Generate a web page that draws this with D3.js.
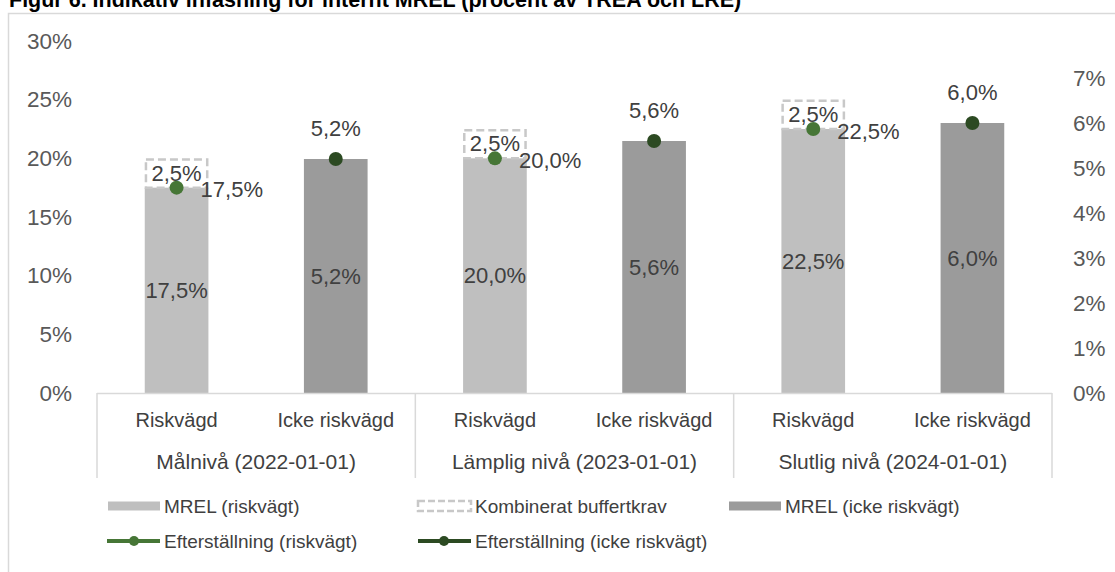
<!DOCTYPE html>
<html>
<head>
<meta charset="utf-8">
<script src="https://cdn.jsdelivr.net/npm/d3@7"></script>
<style>
  body { margin: 0; background: #fff; }
  svg { display: block; font-family: "Liberation Sans", Arial, Helvetica, sans-serif; }
</style>
</head>
<body>
<div id="chart"></div>
<script>
// data
const groups = ["Målnivå (2022-01-01)", "Lämplig nivå (2023-01-01)", "Slutlig nivå (2024-01-01)"];
const subCats = ["Riskvägd", "Icke riskvägd"];
const mrelRisk = [17.5, 20.0, 22.5];      // left axis
const bufferReq = [2.5, 2.5, 2.5];        // left axis, stacked on mrelRisk
const mrelLre = [5.2, 5.6, 6.0];          // right axis
const subRisk = [17.5, 20.0, 22.5];       // left axis
const subLre = [5.2, 5.6, 6.0];           // right axis
const leftTicks = [0, 5, 10, 15, 20, 25, 30];
const rightTicks = [0, 1, 2, 3, 4, 5, 6, 7];

const W = 1115, H = 572;
const plotLeft = 97, plotRight = 1052, plotTop = 41, plotBottom = 393;

const se = d3.formatLocale({decimal: ",", thousands: " ", grouping: [3], currency: ["", " kr"]});
const pct = v => se.format(".1f")(v) + "%";

const svg = d3.select("#chart").append("svg")
  .attr("width", W)
  .attr("height", H);

// outer frame + cropped title
svg.append("rect")
  .attr("x", 8.5).attr("y", 13.5)
  .attr("width", 1200).attr("height", 700)
  .attr("fill", "none").attr("stroke", "#d9d9d9").attr("stroke-width", 1.5);

svg.append("text")
  .attr("x", 9).attr("y", 7)
  .attr("font-size", 21.5).attr("font-weight", "bold").attr("fill", "#000")
  .text("Figur 6. Indikativ infasning för internt MREL (procent av TREA och LRE)");

// scales
const keys = [];
groups.forEach((g, i) => subCats.forEach((s, j) => keys.push(i + "-" + j)));
const x = d3.scaleBand().domain(keys).range([plotLeft, plotRight]).paddingInner(0.6).paddingOuter(0.3);
const xg = d3.scaleBand().domain(groups).range([plotLeft, plotRight]).padding(0);
const yL = d3.scaleLinear().domain([0, 30]).range([plotBottom, plotTop]);
const yR = d3.scaleLinear().domain([0, (plotBottom - plotTop) / 45]).range([plotBottom, plotTop]);

// axes
const axL = svg.append("g")
  .attr("transform", `translate(${plotLeft - 22},0)`)
  .call(d3.axisLeft(yL).tickValues(leftTicks).tickSize(0).tickFormat(d => d + "%"));
axL.select(".domain").remove();
axL.selectAll("text").attr("font-size", 22.5).attr("fill", "#595959")
  .attr("font-family", "Liberation Sans, Arial, sans-serif");

const axR = svg.append("g")
  .attr("transform", `translate(${1073},0)`)
  .call(d3.axisRight(yR).tickValues(rightTicks).tickSize(0).tickFormat(d => d + "%"));
axR.select(".domain").remove();
axR.selectAll("text").attr("font-size", 22.5).attr("fill", "#595959")
  .attr("font-family", "Liberation Sans, Arial, sans-serif").attr("x", 0);

// bars
const risk = groups.map((g, i) => ({k: i + "-0", v: mrelRisk[i], b: bufferReq[i], e: subRisk[i]}));
const lre = groups.map((g, i) => ({k: i + "-1", v: mrelLre[i], e: subLre[i]}));

svg.selectAll(".barRisk").data(risk).enter().append("rect")
  .attr("class", "barRisk")
  .attr("x", d => x(d.k)).attr("width", x.bandwidth())
  .attr("y", d => yL(d.v)).attr("height", d => plotBottom - yL(d.v))
  .attr("fill", "#bfbfbf");

svg.selectAll(".barBuf").data(risk).enter().append("rect")
  .attr("class", "barBuf")
  .attr("x", d => x(d.k) + 1.2).attr("width", x.bandwidth() - 2.4)
  .attr("y", d => yL(d.v + d.b) + 1.2).attr("height", d => yL(d.v) - yL(d.v + d.b) - 1.2)
  .attr("fill", "none").attr("stroke", "#c8c8c8").attr("stroke-width", 2.5)
  .attr("stroke-dasharray", "8,4");

svg.selectAll(".barLre").data(lre).enter().append("rect")
  .attr("class", "barLre")
  .attr("x", d => x(d.k)).attr("width", x.bandwidth())
  .attr("y", d => yR(d.v)).attr("height", d => plotBottom - yR(d.v))
  .attr("fill", "#9b9b9b");

// category axis
svg.append("line")
  .attr("x1", plotLeft).attr("x2", plotRight).attr("y1", plotBottom + 0.5).attr("y2", plotBottom + 0.5)
  .attr("stroke", "#d9d9d9").attr("stroke-width", 1.5);
const seps = groups.map(g => xg(g)).concat([plotRight]);
svg.selectAll(".sep").data(seps).enter().append("line")
  .attr("x1", d => d).attr("x2", d => d).attr("y1", plotBottom).attr("y2", 478)
  .attr("stroke", "#d9d9d9").attr("stroke-width", 1.5);

svg.selectAll(".subLab").data(keys).enter().append("text")
  .attr("x", d => x(d) + x.bandwidth() / 2).attr("y", 420)
  .attr("dy", "0.35em").attr("text-anchor", "middle")
  .attr("font-size", 20).attr("fill", "#404040")
  .text(d => subCats[+d.split("-")[1]]);

svg.selectAll(".grpLab").data(groups).enter().append("text")
  .attr("x", d => xg(d) + xg.bandwidth() / 2).attr("y", 462)
  .attr("dy", "0.35em").attr("text-anchor", "middle")
  .attr("font-size", 21).attr("fill", "#404040")
  .text(d => d);

// labels inside bars
svg.selectAll(".inRisk").data(risk).enter().append("text")
  .attr("x", d => x(d.k) + x.bandwidth() / 2).attr("y", d => (plotBottom + yL(d.v)) / 2)
  .attr("dy", "0.35em").attr("text-anchor", "middle")
  .attr("font-size", 22).attr("fill", "#404040").text(d => pct(d.v));
svg.selectAll(".inBuf").data(risk).enter().append("text")
  .attr("x", d => x(d.k) + x.bandwidth() / 2).attr("y", d => (yL(d.v) + yL(d.v + d.b)) / 2)
  .attr("dy", "0.35em").attr("text-anchor", "middle")
  .attr("font-size", 22).attr("fill", "#404040").text(d => pct(d.b));
svg.selectAll(".inLre").data(lre).enter().append("text")
  .attr("x", d => x(d.k) + x.bandwidth() / 2).attr("y", d => (plotBottom + yR(d.v)) / 2)
  .attr("dy", "0.35em").attr("text-anchor", "middle")
  .attr("font-size", 22).attr("fill", "#404040").text(d => pct(d.v));

// efterställning points
const cRisk = "#467636", cLre = "#2c4a22";
svg.selectAll(".dotRisk").data(risk).enter().append("circle")
  .attr("cx", d => x(d.k) + x.bandwidth() / 2).attr("cy", d => yL(d.e))
  .attr("r", 7).attr("fill", cRisk);
svg.selectAll(".labRisk").data(risk).enter().append("text")
  .attr("x", d => x(d.k) + x.bandwidth() / 2 + 24).attr("y", d => yL(d.e) + 2)
  .attr("dy", "0.35em")
  .attr("font-size", 22).attr("fill", "#404040").text(d => pct(d.e));

svg.selectAll(".dotLre").data(lre).enter().append("circle")
  .attr("cx", d => x(d.k) + x.bandwidth() / 2).attr("cy", d => yR(d.e))
  .attr("r", 7).attr("fill", cLre);
svg.selectAll(".labLre").data(lre).enter().append("text")
  .attr("x", d => x(d.k) + x.bandwidth() / 2).attr("y", d => yR(d.e) - 31)
  .attr("dy", "0.35em").attr("text-anchor", "middle")
  .attr("font-size", 22).attr("fill", "#404040").text(d => pct(d.e));

// legend
const lg = svg.append("g").attr("font-size", 19).attr("fill", "#404040");
const row1 = 506, row2 = 541;
lg.append("rect").attr("x", 108).attr("y", row1 - 4.5).attr("width", 52).attr("height", 9).attr("fill", "#bfbfbf");
lg.append("text").attr("x", 164).attr("y", row1).attr("dy", "0.35em").text("MREL (riskvägt)");
lg.append("rect").attr("x", 418).attr("y", row1 - 5).attr("width", 53).attr("height", 10)
  .attr("fill", "none").attr("stroke", "#c8c8c8").attr("stroke-width", 2.5).attr("stroke-dasharray", "7,3");
lg.append("text").attr("x", 475).attr("y", row1).attr("dy", "0.35em").text("Kombinerat buffertkrav");
lg.append("rect").attr("x", 729).attr("y", row1 - 4.5).attr("width", 52).attr("height", 9).attr("fill", "#9b9b9b");
lg.append("text").attr("x", 785).attr("y", row1).attr("dy", "0.35em").text("MREL (icke riskvägt)");

lg.append("line").attr("x1", 107).attr("x2", 160).attr("y1", row2).attr("y2", row2)
  .attr("stroke", cRisk).attr("stroke-width", 4);
lg.append("circle").attr("cx", 134).attr("cy", row2).attr("r", 5).attr("fill", cRisk);
lg.append("text").attr("x", 164).attr("y", row2).attr("dy", "0.35em").text("Efterställning (riskvägt)");
lg.append("line").attr("x1", 418).attr("x2", 471).attr("y1", row2).attr("y2", row2)
  .attr("stroke", cLre).attr("stroke-width", 4);
lg.append("circle").attr("cx", 444).attr("cy", row2).attr("r", 5).attr("fill", cLre);
lg.append("text").attr("x", 475).attr("y", row2).attr("dy", "0.35em").text("Efterställning (icke riskvägt)");
</script>
</body>
</html>
